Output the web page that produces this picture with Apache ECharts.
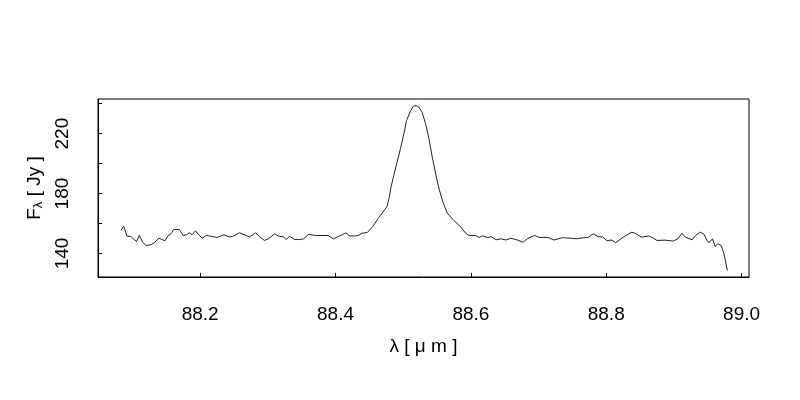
<!DOCTYPE html>
<html>
<head>
<meta charset="utf-8">
<script src="https://cdn.jsdelivr.net/npm/echarts@6/dist/echarts.min.js"></script>
<style>html,body{margin:0;padding:0;background:#fff;}#c{width:800px;height:400px;}</style>
</head>
<body>
<div id="c"></div>
<script>
const wavelength = [88.083,88.087,88.092,88.097,88.101,88.106,88.110,88.115,88.120,88.127,88.132,88.139,88.144,88.148,88.152,88.157,88.161,88.169,88.175,88.180,88.184,88.188,88.193,88.199,88.203,88.209,88.216,88.225,88.235,88.243,88.248,88.258,88.265,88.273,88.282,88.288,88.295,88.301,88.310,88.316,88.323,88.327,88.332,88.340,88.347,88.353,88.360,88.370,88.380,88.389,88.397,88.404,88.410,88.415,88.421,88.429,88.434,88.439,88.447,88.455,88.463,88.470,88.476,88.479,88.482,88.486,88.491,88.496,88.501,88.505,88.511,88.515,88.519,88.523,88.528,88.533,88.538,88.543,88.548,88.553,88.559,88.565,88.575,88.585,88.592,88.597,88.607,88.612,88.617,88.625,88.630,88.637,88.644,88.652,88.659,88.668,88.677,88.684,88.694,88.701,88.714,88.723,88.735,88.745,88.756,88.763,88.773,88.781,88.788,88.795,88.801,88.808,88.814,88.825,88.837,88.842,88.852,88.863,88.870,88.875,88.887,88.899,88.906,88.912,88.917,88.927,88.932,88.939,88.944,88.949,88.952,88.957,88.961,88.965,88.970,88.974,88.979];
const flux = [155.5,158.2,151.5,151.5,149.8,148.0,152.0,147.5,145.3,145.8,147.1,150.2,149.3,148.5,151.5,153.3,156.0,156.0,152.0,152.5,153.8,152.5,155.1,152.0,150.2,152.0,151.5,150.7,152.5,151.1,151.3,153.8,152.5,151.1,153.8,151.1,148.7,149.8,153.1,151.5,151.1,149.3,151.5,149.3,149.3,149.8,152.7,152.0,152.0,152.0,149.7,151.3,152.5,153.8,151.7,151.7,152.0,153.5,154.0,158.0,163.3,167.7,171.3,176.7,184.2,192.0,200.9,210.0,220.0,228.7,235.3,238.3,238.7,237.7,234.2,226.7,216.7,204.2,193.1,183.1,174.0,167.0,162.0,157.7,153.7,152.0,152.0,150.7,151.8,150.5,151.3,149.1,149.8,149.0,150.2,149.1,147.5,150.0,152.0,150.7,150.7,149.0,150.5,150.3,149.8,150.3,150.7,153.1,151.2,151.0,148.5,149.0,147.2,150.9,154.1,153.7,150.9,151.7,150.2,148.7,148.9,148.3,149.8,153.5,150.9,149.1,152.0,154.2,153.1,148.7,147.1,149.8,144.7,146.5,145.3,139.8,128.7];
const xTicks = [88.2, 88.4, 88.6, 88.8, 89.0];
const yTicks = [140, 160, 180, 200, 220, 240];
const yLabels = [140, 180, 220];

const points = wavelength.map((w, i) => [w, flux[i]]);
const font = 'Liberation Sans, Arial, Helvetica, sans-serif';

const chart = echarts.init(document.getElementById('c'), null, {renderer: 'canvas'});
chart.setOption({
  animation: false,
  backgroundColor: '#ffffff',
  grid: {left: 98, right: 51, top: 99, bottom: 123, show: true, borderColor: '#000', borderWidth: 1, backgroundColor: 'transparent'},
  xAxis: {
    type: 'value', min: 88.049, max: 89.011,
    splitLine: {show: false},
    axisLine: {show: true, lineStyle: {color: '#000', width: 1}},
    axisTick: {show: true, inside: true, length: 4, lineStyle: {color: '#000'}, customValues: xTicks},
    axisLabel: {customValues: xTicks, formatter: v => v.toFixed(1), color: '#000', fontSize: 19, fontFamily: font, margin: 28},
    name: 'λ [ μ m ]', nameLocation: 'middle', nameGap: 60,
    nameTextStyle: {color: '#000', fontSize: 19, fontFamily: font}
  },
  yAxis: {
    type: 'value', min: 124.3, max: 243.1,
    splitLine: {show: false},
    axisLine: {show: true, lineStyle: {color: '#000', width: 1}},
    axisTick: {show: true, inside: true, length: 4, lineStyle: {color: '#000'}, customValues: yTicks},
    axisLabel: {customValues: yLabels, rotate: 90, color: '#000', fontSize: 19, fontFamily: font, margin: 26},
    name: 'F{sub|λ} [ Jy ]', nameLocation: 'middle', nameGap: 53, nameRotate: 90,
    nameTextStyle: {color: '#000', fontSize: 19, fontFamily: font,
      rich: {sub: {fontSize: 13, fontFamily: font, color: '#000', verticalAlign: 'bottom', padding: [7, 0, 0, 0]}}}
  },
  series: [{
    type: 'line', data: points, showSymbol: false, symbol: 'none',
    lineStyle: {color: '#222', width: 1}, silent: true
  }]
});
</script>
</body>
</html>
